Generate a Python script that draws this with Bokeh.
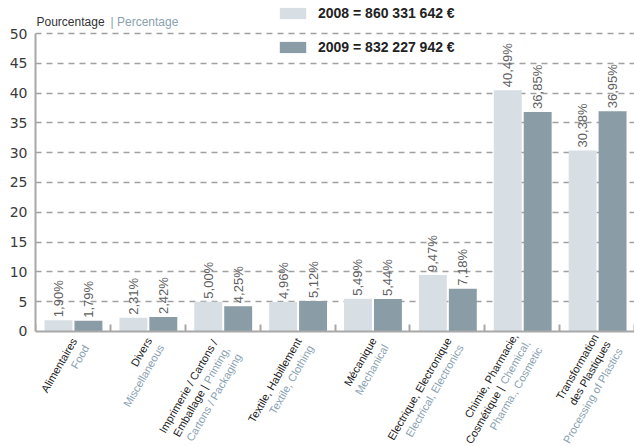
import math
from bokeh.plotting import figure
from bokeh.models import ColumnDataSource, LabelSet, Label, Legend, LegendItem, FixedTicker
from bokeh.core.properties import value
from bokeh.embed import file_html
from bokeh.resources import INLINE

# ---------------- data ----------------
FR = "#1a1a1a"
EN = "#89a1b1"
category_lines = [
    [[("Alimentaires", FR)], [("Food", EN)]],
    [[("Divers", FR)], [("Miscellaneous", EN)]],
    [[("Imprimerie / Cartons /", FR)], [("Emballage |", FR), ("Printing,", EN)], [("Cartons / Packaging", EN)]],
    [[("Textile, Habillement", FR)], [("Textile, Clothing", EN)]],
    [[("Mécanique", FR)], [("Mechanical", EN)]],
    [[("Electrique, Electronique", FR)], [("Electrical, Electronics", EN)]],
    [[("Chimie, Pharmacie,", FR)], [("Cosmétique |", FR), ("Chemical,", EN)], [("Pharma., Cosmetic", EN)]],
    [[("Transformation", FR)], [("des Plastiques", FR)], [("Processing of Plastics", EN)]],
]
values_2008 = [1.90, 2.31, 5.00, 4.96, 5.49, 9.47, 40.49, 30.38]
values_2009 = [1.79, 2.42, 4.25, 5.12, 5.44, 7.18, 36.85, 36.95]
y_ticks = [0, 5, 10, 15, 20, 25, 30, 35, 40, 45, 50]
legend_2008 = "2008 = 860 331 642 €"
legend_2009 = "2009 = 832 227 942 €"
title_fr = "Pourcentage"
title_en = "| Percentage"

# ---------------- styling ----------------
C08 = "#d7dfe4"
C09 = "#8a9ca5"
FONT = "Liberation Sans"
n = len(values_2008)

# frame covers the whole canvas right of the y axis; value range padded so that
# 0..50 sits where the reference draws it and labels/legend stay inside the frame
p = figure(width=634, height=446, x_range=(0, n), y_range=(-19.30, 55.54),
           output_backend="svg", toolbar_location=None,
           min_border_left=35, min_border_right=0, min_border_top=0, min_border_bottom=0)
p.outline_line_color = None
p.background_fill_color = "white"
p.border_fill_color = "white"

centers = [i + 0.5 for i in range(n)]
fmt = lambda v: f"{v:.2f}".replace(".", ",") + "%"
src = ColumnDataSource(dict(
    x08=[c - 0.193 for c in centers],
    x09=[c + 0.207 for c in centers],
    v08=values_2008, v09=values_2009,
    t08=[fmt(v) for v in values_2008], t09=[fmt(v) for v in values_2009],
))

r08 = p.vbar(x="x08", top="v08", width=0.373, source=src, fill_color=C08, line_color=None)
r09 = p.vbar(x="x09", top="v09", width=0.373, source=src, fill_color=C09, line_color=None)

# axes
p.yaxis.ticker = FixedTicker(ticks=y_ticks)
p.yaxis.bounds = (0, 50)
p.yaxis.major_tick_out = 0
p.yaxis.major_tick_in = 0
p.yaxis.minor_tick_line_color = None
p.yaxis.major_label_standoff = 8
p.yaxis.major_label_text_font = "DejaVu Sans"
p.yaxis.major_label_text_font_size = "14px"
p.yaxis.major_label_text_color = "#3a3a3a"
p.yaxis.axis_line_color = "#a8a8a8"
p.yaxis.axis_line_width = 2

p.xaxis.fixed_location = 0
p.xaxis.ticker = FixedTicker(ticks=list(range(n + 1)))
p.xaxis.major_tick_in = 7
p.xaxis.major_tick_out = 0
p.xaxis.major_tick_line_color = "#a8a8a8"
p.xaxis.major_tick_line_width = 2
p.xaxis.minor_tick_line_color = None
p.xaxis.major_label_overrides = {i: "" for i in range(n + 1)}
p.xaxis.major_label_text_font_size = "0px"
p.xaxis.major_label_standoff = 0
p.xaxis.axis_line_color = "#a8a8a8"
p.xaxis.axis_line_width = 2

p.xgrid.visible = False
p.ygrid.ticker = FixedTicker(ticks=y_ticks[1:])
p.ygrid.grid_line_color = "#a0a0a0"
p.ygrid.grid_line_dash = "6 5"
p.ygrid.grid_line_width = 1.5

# value labels
for xf, vf, tf in (("x08", "v08", "t08"), ("x09", "v09", "t09")):
    p.add_layout(LabelSet(x=xf, y=vf, text=tf, source=src, angle=math.pi / 2,
                          text_align="left", text_baseline="middle", y_offset=3,
                          text_font=value(FONT), text_font_size=value("13px"),
                          text_color="#606060"))

# category labels (rotated 60 deg, right aligned lines)
ux, uy = 0.5, -0.866          # text direction (screen, y down)
vx, vy = 12.0, 7.0            # next line step (screen, y down)
anchors = [(1.2, 7.5), (1.2, 7.0), (-8.0, 9.0), (1.0, 7.5), (1.2, 7.0), (1.2, 7.0), (-7.0, 2.5), (-1.5, 3.5)]
blue_widths = {"Printing,": 40.0, "Chemical,": 49.0}
lx, ly, lt, lc, lxo, lyo = [], [], [], [], [], []
for i, lines in enumerate(category_lines):
    ax, ay = anchors[i]
    for k, segs in enumerate(lines):
        ex, ey = ax + k * vx, ay + k * vy
        shift = 0.0
        for text, color in reversed(segs):
            sx, sy = ex - shift * ux, ey - shift * uy
            lx.append(centers[i]); ly.append(0); lt.append(text); lc.append(color)
            lxo.append(sx); lyo.append(-sy)
            shift += blue_widths.get(text, 0) + 4.0
cat_src = ColumnDataSource(dict(x=lx, y=ly, text=lt, color=lc, xo=lxo, yo=lyo))
p.add_layout(LabelSet(x="x", y="y", text="text", source=cat_src, angle=math.pi / 3,
                      text_align="right", text_baseline="middle",
                      x_offset="xo", y_offset="yo", text_color="color",
                      text_font=value(FONT), text_font_size=value("11px")))

# title
p.add_layout(Label(x=0, y=50, x_offset=1, y_offset=12, text=title_fr, text_font=FONT,
                   text_font_size="12px", text_color="#333333", text_baseline="alphabetic"))
p.add_layout(Label(x=0, y=50, x_offset=75, y_offset=12, text=title_en, text_font=FONT,
                   text_font_size="12px", text_color=EN, text_baseline="alphabetic"))

# legend
legend = Legend(items=[LegendItem(label=legend_2008, renderers=[r08]),
                       LegendItem(label=legend_2009, renderers=[r09])],
                location=(241, 391), orientation="vertical",
                glyph_width=33, glyph_height=14, label_height=14, label_width=150,
                spacing=18, padding=0, margin=0, label_standoff=9,
                border_line_alpha=0, background_fill_alpha=0,
                label_text_font=FONT, label_text_font_style="bold",
                label_text_font_size="14px", label_text_color="#222222")
p.add_layout(legend)

open("out.html", "w").write(file_html(p, INLINE))
